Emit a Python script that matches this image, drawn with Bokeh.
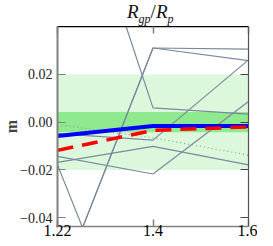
from bokeh.plotting import figure
from bokeh.models import (Range1d, LinearAxis, FixedTicker, BoxAnnotation, Div)
from bokeh.layouts import column
from bokeh.embed import file_html
from bokeh.resources import INLINE

# ---- data ----
x_labels = ["1.22", "1.4", "1.6"]
x_pos = [0, 1, 2]

y_ticks = [-0.04, -0.02, 0.0, 0.02]
y_tick_labels = ["\u22120.04", "\u22120.02", "0.00", "0.02"]

band_outer = [-0.02, 0.02]
band_inner = [-0.0042, 0.0043]

grey_a = [0.127, 0.006, 0.0034]
grey_b1 = [-0.071, 0.0311, 0.0306]
grey_b2 = [-0.071, 0.0311, 0.0258]
grey_c = [-0.0179, -0.118, -0.080]
grey_d = [-0.0143, -0.0217, 0.0087]
grey_e = [-0.0168, -0.0101, -0.0179]
grey_f = [-0.0048, -0.0075, 0.0261]
dotted = [-0.0010, -0.0065, -0.0138]
blue = [-0.0058, -0.0016, -0.0016]
red = [-0.0118, -0.0034, -0.0020]

SERIF = "Liberation Serif"
GREY = "#808080"

p = figure(width=257, height=214, output_backend="svg", toolbar_location=None,
           x_range=Range1d(0, 2), y_range=Range1d(-0.0437, 0.0401),
           min_border_left=53, min_border_right=9, min_border_top=0,
           min_border_bottom=14)
p.outline_line_color = None
p.grid.visible = False

p.add_layout(BoxAnnotation(bottom=band_outer[0], top=band_outer[1],
                           fill_color="#dcf8dc", fill_alpha=1.0, line_color=None,
                           level="underlay"))
p.add_layout(BoxAnnotation(bottom=band_inner[0], top=band_inner[1],
                           fill_color="#8fe98f", fill_alpha=1.0, line_color=None,
                           level="underlay"))

for ys in [grey_a, grey_b1, grey_b2, grey_c, grey_d, grey_e, grey_f]:
    p.line(x_pos, ys, line_color="#7a8a9c", line_width=1.2)
p.line(x_pos, dotted, line_color="#8a9a9a", line_width=1.2, line_dash="1 3")
p.line(x_pos, blue, line_color="#0000ff", line_width=4)
p.line(x_pos, red, line_color="#ff0000", line_width=3.5, line_dash="16 9")

# axes
bx = p.xaxis[0]
bx.ticker = FixedTicker(ticks=x_pos, minor_ticks=[])
bx.major_label_overrides = {i: s for i, s in zip(x_pos, x_labels)}
bx.major_label_text_font = SERIF
bx.major_label_text_font_size = "16px"
bx.major_label_text_color = "black"
bx.major_label_standoff = -2
bx.axis_line_color = GREY
bx.axis_line_width = 1.5
bx.major_tick_in = 7
bx.major_tick_out = 0
bx.major_tick_line_color = GREY
bx.major_tick_line_width = 1.5

ly = p.yaxis[0]
ly.ticker = FixedTicker(ticks=y_ticks, minor_ticks=[])
ly.major_label_overrides = {v: s for v, s in zip(y_ticks, y_tick_labels)}
ly.major_label_text_font = SERIF
ly.major_label_text_font_size = "14px"
ly.major_label_text_color = "#222222"
ly.major_label_standoff = 5
ly.axis_line_color = GREY
ly.axis_line_width = 2
ly.major_tick_in = 8
ly.major_tick_out = 0
ly.major_tick_line_color = GREY
ly.major_tick_line_width = 1.2
ly.axis_label = "m"
ly.axis_label_text_font = SERIF
ly.axis_label_text_font_style = "bold"
ly.axis_label_text_font_size = "16px"
ly.axis_label_standoff = -3

top = LinearAxis(ticker=FixedTicker(ticks=x_pos, minor_ticks=[]),
                 major_label_text_font_size="1px", major_label_text_color=None,
                 major_label_standoff=0,
                 axis_line_color="black", axis_line_width=1.5,
                 major_tick_in=7, major_tick_out=0, major_tick_line_color=GREY,
                 major_tick_line_width=1.5)
p.add_layout(top, "above")
right = LinearAxis(ticker=FixedTicker(ticks=y_ticks, minor_ticks=[]),
                   major_label_text_font_size="1px", major_label_text_color=None,
                   major_label_standoff=0,
                   axis_line_color="#555555", axis_line_width=1.2,
                   major_tick_in=8, major_tick_out=0, major_tick_line_color="#444444",
                   major_tick_line_width=1.2)
p.add_layout(right, "right")

title_html = ('<span style="position:relative; top:-3px; left:122px; white-space:nowrap;">'
              '<i>R</i><sub style="font-size:12px"><i>gp</i></sub>/'
              '<i>R</i><sub style="font-size:12px"><i>p</i></sub></span>')
title = Div(text=title_html, width=257, height=16,
            styles={"font-family": SERIF, "font-size": "19px", "line-height": "19px",
                    "color": "#111111", "overflow": "visible"})

layout = column(title, p, spacing=0)

open("out.html", "w").write(file_html(layout, INLINE))
